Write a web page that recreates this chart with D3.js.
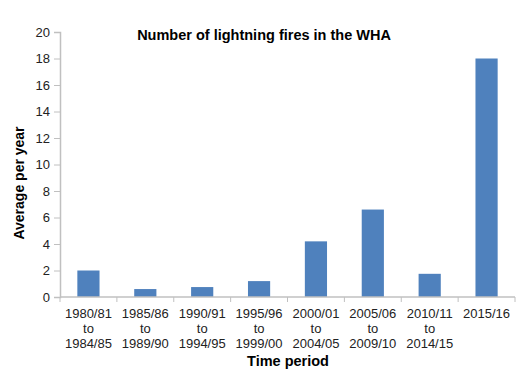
<!DOCTYPE html>
<html>
<head>
<meta charset="utf-8">
<script src="https://cdn.jsdelivr.net/npm/d3@7"></script>
<style>
  body { margin: 0; background: #fff; }
  svg { font-family: "Liberation Sans", Arial, sans-serif; }
</style>
</head>
<body>
<svg id="chart" width="527" height="372"></svg>
<script>
// data
let periods = [
  ["1980/81", "to", "1984/85"],
  ["1985/86", "to", "1989/90"],
  ["1990/91", "to", "1994/95"],
  ["1995/96", "to", "1999/00"],
  ["2000/01", "to", "2004/05"],
  ["2005/06", "to", "2009/10"],
  ["2010/11", "to", "2014/15"],
  ["2015/16"]
];
let averages = [2.0, 0.6, 0.75, 1.2, 4.2, 6.6, 1.75, 18.0];
let yTicks = [0, 2, 4, 6, 8, 10, 12, 14, 16, 18, 20];

var drawChart = function(){
  let svg = d3.select("#chart");
  let margin = { top: 32, right: 12, bottom: 75, left: 60 };
  let plotWidth = 527 - margin.left - margin.right;
  let plotHeight = 372 - margin.top - margin.bottom;

  let keys = periods.map(p => p.join(" "));

  let x = d3.scaleBand()
    .domain(keys)
    .range([0, plotWidth])
    .paddingInner(0.61)
    .paddingOuter(0.305);

  let y = d3.scaleLinear()
    .domain([0, 20])
    .range([plotHeight, 0]);

  let plot = svg.append("g")
    .attr("transform", "translate(" + margin.left + "," + margin.top + ")");

  // bars
  plot.selectAll("rect")
    .data(averages)
    .enter().append("rect")
    .attr("x", (d, i) => x(keys[i]))
    .attr("y", d => y(d))
    .attr("width", x.bandwidth())
    .attr("height", d => plotHeight - y(d))
    .attr("fill", "#4f81bd");

  // y axis
  let yAxis = d3.axisLeft(y).tickValues(yTicks).tickSize(6).tickPadding(4);
  let yGroup = plot.append("g").call(yAxis);
  yGroup.select(".domain").attr("stroke", "#c0c0c0").attr("stroke-width", 1.5);
  yGroup.selectAll(".tick line").attr("stroke", "#c0c0c0");
  yGroup.selectAll(".tick text").attr("fill", "#222").style("font-size", "13px");

  // x axis: tick marks at band boundaries
  let step = x.step();
  let xGroup = plot.append("g").attr("transform", "translate(0," + plotHeight + ")");
  xGroup.append("line")
    .attr("x1", 0).attr("x2", plotWidth)
    .attr("stroke", "#c0c0c0").attr("stroke-width", 1.5);
  xGroup.selectAll("line.tk")
    .data(d3.range(keys.length + 1))
    .enter().append("line")
    .attr("class", "tk")
    .attr("x1", i => i * step).attr("x2", i => i * step)
    .attr("y1", 0).attr("y2", 5)
    .attr("stroke", "#c0c0c0");

  // multi-line category labels
  let labels = xGroup.selectAll("text.cat")
    .data(periods)
    .enter().append("text")
    .attr("class", "cat")
    .attr("text-anchor", "middle")
    .attr("fill", "#222")
    .style("font-size", "13px")
    .attr("transform", (d, i) => "translate(" + (x(keys[i]) + x.bandwidth() / 2) + ",21)");
  labels.selectAll("tspan")
    .data(d => d)
    .enter().append("tspan")
    .attr("x", 0)
    .attr("dy", (d, i) => i === 0 ? 0 : 15)
    .text(d => d);

  // titles
  svg.append("text")
    .attr("x", 264).attr("y", 40)
    .attr("text-anchor", "middle")
    .style("font-size", "14.5px").style("font-weight", "bold")
    .text("Number of lightning fires in the WHA");

  svg.append("text")
    .attr("transform", "translate(24,183) rotate(-90)")
    .attr("text-anchor", "middle")
    .style("font-size", "14px").style("font-weight", "bold")
    .text("Average per year");

  svg.append("text")
    .attr("x", 288).attr("y", 366)
    .attr("text-anchor", "middle")
    .style("font-size", "14.5px").style("font-weight", "bold")
    .text("Time period");
};
drawChart();
</script>
</body>
</html>
